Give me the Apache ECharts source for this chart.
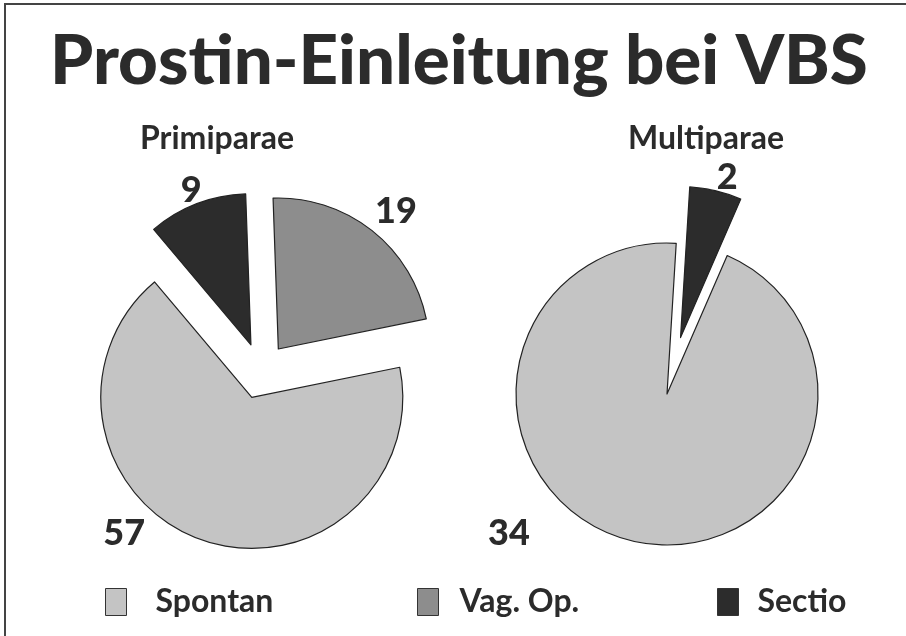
<!DOCTYPE html>
<html>
<head>
<meta charset="utf-8">
<script src="https://cdn.jsdelivr.net/npm/echarts@6/dist/echarts.min.js"></script>
<style>
  html, body { margin: 0; padding: 0; background: #fff; }
  #main { width: 906px; height: 636px; }
</style>
</head>
<body>
<div id="main"></div>
<script>
// data
var categories = ['Spontan', 'Vag. Op.', 'Sectio'];
var primiparae = [57, 19, 9];
var multiparae = [34, 0, 2];
var colors = ['#c4c4c4', '#8d8d8d', '#2c2c2c'];

var FONT = 'Lato';
var INK = '#2b2b2b';
var R = 151;
var POLAR_R = 260;

var polars = [];
var series = [];

// one exploded pie plus its value labels (placed on a hidden polar system)
// labelAdj = [angle shift, distance from centre] per category
function addPie(name, values, order, center, startAngle, exploded, offset, labelAdj) {
    var items = [];
    var total = 0;
    order.forEach(function (i) {
        if (values[i] > 0) {
            items.push({
                name: categories[i],
                value: values[i],
                selected: exploded.indexOf(i) >= 0,
                itemStyle: { color: colors[i] }
            });
            total += values[i];
        }
    });
    var labels = [];
    var a = startAngle;
    items.forEach(function (it) {
        var span = it.value / total * 360;
        var adj = labelAdj[categories.indexOf(it.name)];
        var ang = ((a - span / 2 + adj[0]) % 360 + 360) % 360;
        labels.push([adj[1], ang, it.value]);
        a -= span;
    });

    var pi = polars.length;
    polars.push({ center: center, radius: POLAR_R });

    series.push({
        type: 'pie',
        name: name,
        center: center,
        radius: R,
        startAngle: startAngle,
        clockwise: true,
        selectedMode: 'multiple',
        selectedOffset: offset,
        animation: false,
        emphasis: { disabled: true },
        itemStyle: { borderColor: '#222', borderWidth: 1.2 },
        label: { show: false },
        labelLine: { show: false },
        data: items
    });
    series.push({
        type: 'scatter',
        coordinateSystem: 'polar',
        polarIndex: pi,
        symbolSize: 0,
        silent: true,
        clip: false,
        itemStyle: { opacity: 1, color: INK },
        label: {
            show: true,
            position: 'inside',
            formatter: function (p) { return p.value[2]; },
            fontFamily: FONT,
            fontWeight: 900,
            fontSize: 36,
            color: INK,
            opacity: 1,
            textBorderWidth: 0
        },
        data: labels
    });
}

addPie('Primiparae', primiparae, [1, 0, 2], [261, 371], 92, [0, 1, 2], 28,
    [[-21, 212], [-2, 209], [0, 194]]);
addPie('Multiparae', multiparae, [1, 0, 2], [667, 394], 66.5, [2], 58,
    [[-35, 211], [0, 0], [-2, 225]]);

var legendX = [100, 412, 712];
var legendPad = [24, 16, 14];

var option = {
    backgroundColor: '#fff',
    animation: false,
    title: [
        {
            text: 'Prostin-Einleitung bei VBS',
            left: 454, textAlign: 'center', top: 22,
            textStyle: { fontFamily: FONT, fontWeight: 900, fontSize: 69, color: INK }
        },
        {
            text: 'Primiparae',
            left: 212, textAlign: 'center', top: 118,
            textStyle: { fontFamily: FONT, fontWeight: 'bold', fontSize: 32, color: INK }
        },
        {
            text: 'Multiparae',
            left: 701, textAlign: 'center', top: 118,
            textStyle: { fontFamily: FONT, fontWeight: 'bold', fontSize: 32, color: INK }
        }
    ],
    legend: categories.map(function (c, i) {
        return {
            data: [c],
            left: legendX[i],
            top: 581,
            icon: 'rect',
            itemWidth: 21,
            itemHeight: 27,
            selectedMode: false,
            itemStyle: { borderColor: '#333', borderWidth: 1 },
            textStyle: {
                fontFamily: FONT, fontWeight: 'bold', fontSize: 32, color: INK,
                padding: [0, 0, 0, legendPad[i]]
            }
        };
    }),
    polar: polars,
    angleAxis: polars.map(function (p, i) {
        return { polarIndex: i, type: 'value', min: 0, max: 360, startAngle: 0, clockwise: false, show: false };
    }),
    radiusAxis: polars.map(function (p, i) {
        return { polarIndex: i, type: 'value', min: 0, max: POLAR_R, show: false };
    }),
    graphic: [{
        type: 'rect',
        shape: { x: 5, y: 4, width: 940, height: 700 },
        style: { fill: 'none', stroke: '#444', lineWidth: 2 },
        silent: true
    }],
    series: series
};

var chart = echarts.init(document.getElementById('main'));
chart.setOption(option);
</script>
</body>
</html>
